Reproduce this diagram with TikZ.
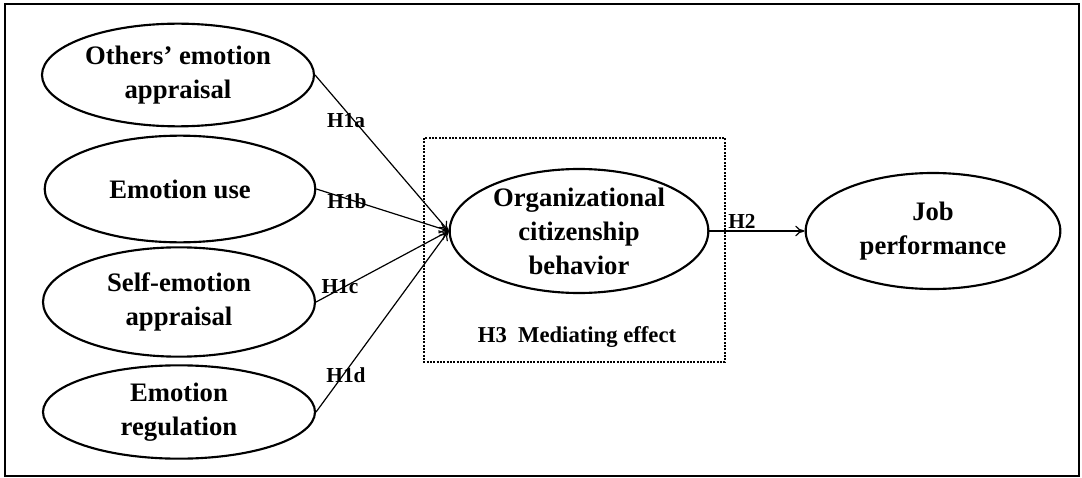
\documentclass[tikz,border=0pt]{standalone}
\usepackage{fontspec}
\setmainfont{Liberation Serif}
\usepackage{tikz}
\usetikzlibrary{arrows.meta, calc, shapes.geometric, positioning}

\tikzset{
  construct/.style={ellipse, draw, line width=1.6pt, inner sep=0pt, align=center,
    font=\bfseries\fontsize{20}{25.5}\selectfont},
  hyp/.style={font=\bfseries\fontsize{16}{18}\selectfont, inner sep=0pt},
  path/.style={line width=0.9pt, -{To[length=7pt,width=8pt]}}
}

\begin{document}
\begin{tikzpicture}[x=0.75pt, y=-0.75pt]
% Frame
\useasboundingbox (0,0) rectangle (1082,478);
\draw[line width=1pt] (5,4) rectangle (1079,476);

% Mediation box
\draw[densely dotted, line width=1.5pt] (424,138) rectangle (725,362);
\node[font=\bfseries\fontsize{17}{19}\selectfont] (h3) at (577,337) {H3\ \ Mediating effect};

% Constructs
\node[construct, minimum width=204pt, minimum height=77pt] (others) at (178,75) {Others' emotion\\appraisal};
\node[construct, minimum width=203pt, minimum height=80pt] (use)    at (180,189) {Emotion use};
\node[construct, minimum width=204pt, minimum height=82pt] (self)   at (179,302) {Self-emotion\\appraisal};
\node[construct, minimum width=204pt, minimum height=70pt] (reg)    at (179,412) {Emotion\\regulation};
\node[construct, minimum width=194pt, minimum height=93pt] (ocb)    at (579,231) {Organizational\\citizenship\\behavior};
\node[construct, minimum width=191pt, minimum height=87pt] (job)    at (933,231) {Job\\performance};

% Paths
\draw[path] (others.east) -- (ocb.west);
\draw[path] (use.east)    -- (ocb.west);
\draw[path] (self.east)   -- (ocb.west);
\draw[path] (reg.east)    -- (ocb.west);
\draw[path] (ocb.east)    -- (job.west);

% Hypothesis labels
\node[hyp] (h1a) at (346,121) {H1a};
\node[hyp] (h1b) at (347,201) {H1b};
\node[hyp] (h1c) at (340,287) {H1c};
\node[hyp] (h1d) at (346,375) {H1d};
\node[hyp] (h2)  at (742,221) {H2};

\end{tikzpicture}
\end{document}
